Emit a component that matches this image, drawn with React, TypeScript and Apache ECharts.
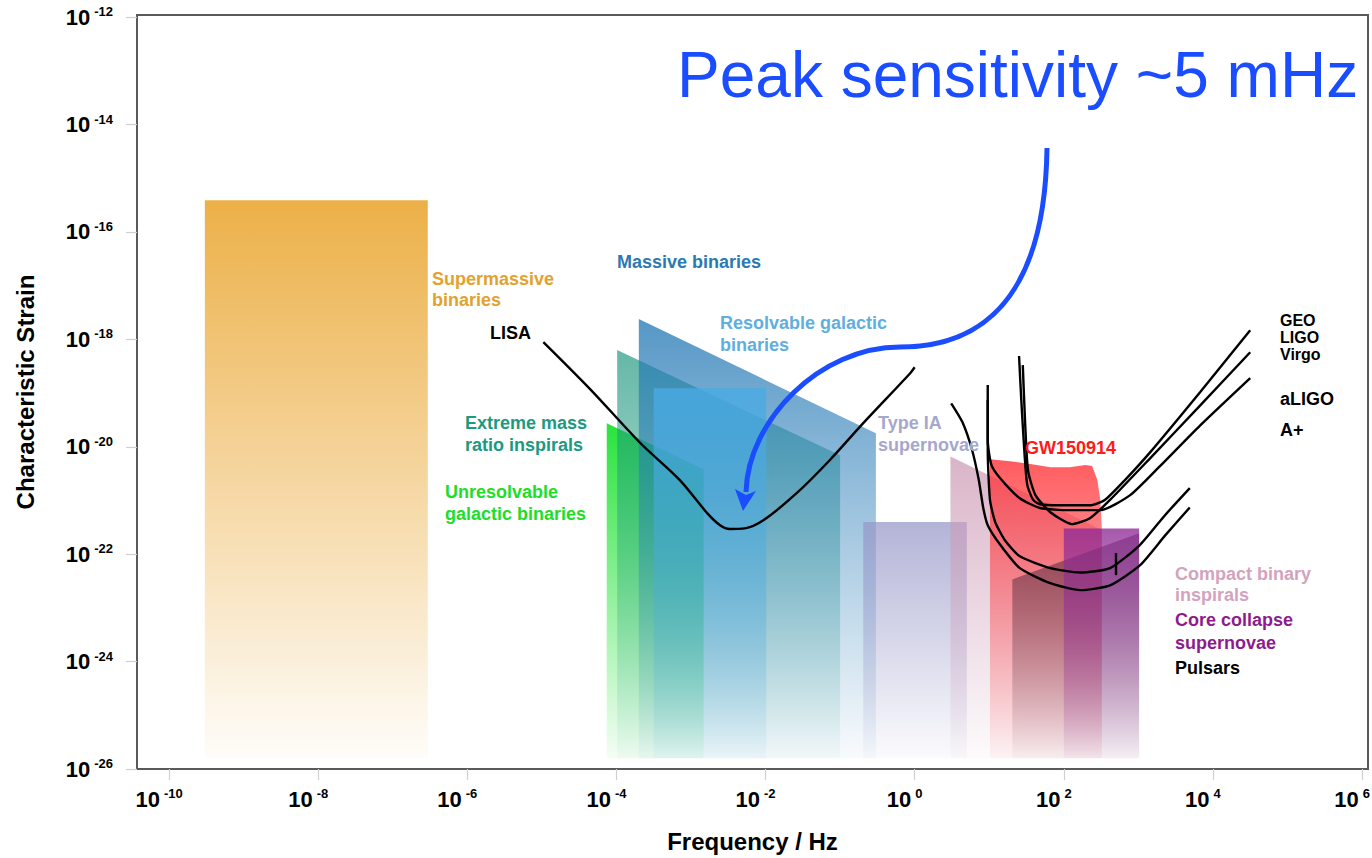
import React, { useEffect, useRef } from 'react';
import * as echarts from 'echarts';

// Axis ticks (exponents of ten)
const xTicks = [-10, -8, -6, -4, -2, 0, 2, 4, 6];
const yTicks = [-26, -24, -22, -20, -18, -16, -14, -12];

// Source regions: [log10 f (Hz), log10 characteristic strain]
const supermassiveBinaries = [[-9.52, -15.41], [-6.53, -15.41], [-6.53, -25.8], [-9.52, -25.8]];
const unresolvableGalactic = [[-4.13, -19.56], [-2.83, -20.42], [-2.83, -25.8], [-4.13, -25.8]];
const extremeMassRatio = [[-3.99, -18.2], [-1.0, -20.16], [-1.0, -25.8], [-3.99, -25.8]];
const massiveBinaries = [[-3.7, -17.62], [-0.52, -19.75], [-0.52, -25.8], [-3.7, -25.8]];
const resolvableGalactic = [[-3.5, -18.91], [-1.99, -18.91], [-1.99, -25.8], [-3.5, -25.8]];
const typeIASupernovae = [[-0.69, -21.4], [0.7, -21.4], [0.7, -25.8], [-0.69, -25.8]];
const compactBinary = [[0.48, -20.18], [2.51, -21.55], [2.51, -25.8], [0.48, -25.8]];
const gw150914 = [
  [1.01, -20.23], [1.28, -20.27], [1.55, -20.32], [1.82, -20.38], [2.08, -20.38],
  [2.29, -20.34], [2.38, -20.36], [2.45, -20.62], [2.49, -20.99], [2.51, -21.52],
  [2.51, -25.8], [1.01, -25.8],
];
const pulsars = [[1.31, -22.47], [3.01, -21.61], [3.01, -25.8], [1.31, -25.8]];
const coreCollapse = [[2.0, -21.52], [3.01, -21.52], [3.01, -25.8], [2.0, -25.8]];

// Detector sensitivity curves
const lisa = [
  [-4.98, -18.05], [-4.35, -18.93], [-3.68, -19.93], [-3.15, -20.62], [-2.78, -21.24],
  [-2.61, -21.46], [-2.48, -21.53], [-2.28, -21.52], [-2.03, -21.37], [-1.58, -20.86],
  [-1.14, -20.25], [-0.69, -19.56], [-0.06, -18.63], [0.0, -18.52],
];
const geo = [
  [1.4, -18.31], [1.43, -19.13], [1.47, -20.06], [1.51, -20.71], [1.59, -20.99],
  [1.68, -21.07], [1.95, -21.09], [2.35, -21.09], [2.55, -20.99], [2.82, -20.62],
  [3.16, -20.1], [3.83, -18.98], [4.5, -17.83],
];
const ligo = [
  [1.45, -18.48], [1.48, -19.51], [1.52, -20.44], [1.62, -20.9], [1.82, -21.22],
  [2.11, -21.44], [2.35, -21.33], [2.62, -20.99], [3.16, -20.21], [3.83, -19.23],
  [4.5, -18.24],
];
const virgo = [
  [0.98, -18.85], [0.98, -19.88], [1.03, -20.34], [1.15, -20.59], [1.41, -20.96],
  [1.68, -21.14], [2.08, -21.18], [2.49, -21.18], [2.89, -20.9], [3.29, -20.36],
  [3.83, -19.6], [4.5, -18.72],
];
const aligo = [
  [0.98, -19.13], [0.98, -20.06], [1.01, -20.99], [1.08, -21.4], [1.21, -21.74],
  [1.41, -22.04], [1.82, -22.26], [2.22, -22.34], [2.62, -22.26], [3.02, -21.83],
  [3.36, -21.27], [3.69, -20.77],
];
const aPlus = [
  [0.49, -19.19], [0.64, -19.54], [0.77, -20.06], [0.86, -20.62], [0.92, -21.14],
  [0.98, -21.46], [1.15, -21.83], [1.41, -22.26], [1.82, -22.54], [2.22, -22.67],
  [2.62, -22.58], [3.02, -22.21], [3.36, -21.65], [3.69, -21.13],
];
const marker = [[2.7, -21.98], [2.7, -22.39]];

const FONT = '"Liberation Sans", Arial, Helvetica, sans-serif';

export default function App() {
  const ref = useRef<HTMLDivElement>(null);

  useEffect(() => {
    const chart = echarts.init(ref.current!, null, { renderer: 'svg' });

    const grad = (top: string, bottom: string) =>
      new echarts.graphic.LinearGradient(0, 0, 0, 1, [
        { offset: 0, color: top },
        { offset: 1, color: bottom },
      ]);

    const regions = [
      { pts: supermassiveBinaries, top: 'rgba(236,176,72,1)', bottom: 'rgba(236,176,72,0.03)' },
      { pts: unresolvableGalactic, top: 'rgba(30,226,50,0.95)', bottom: 'rgba(30,226,50,0.05)' },
      { pts: extremeMassRatio, top: 'rgba(28,150,125,0.68)', bottom: 'rgba(28,150,125,0.03)' },
      { pts: massiveBinaries, top: 'rgba(38,122,182,0.78)', bottom: 'rgba(38,122,182,0.03)' },
      { pts: resolvableGalactic, top: 'rgba(72,170,228,0.8)', bottom: 'rgba(72,170,228,0.05)' },
      { pts: typeIASupernovae, top: 'rgba(150,150,200,0.72)', bottom: 'rgba(150,150,200,0.04)' },
      { pts: compactBinary, top: 'rgba(205,155,182,0.75)', bottom: 'rgba(205,155,182,0.04)' },
      { pts: gw150914, top: 'rgba(255,50,55,0.8)', bottom: 'rgba(255,50,55,0.04)' },
      { pts: pulsars, top: 'rgba(80,40,60,0.62)', bottom: 'rgba(80,40,60,0.03)' },
      { pts: coreCollapse, top: 'rgba(142,42,150,0.78)', bottom: 'rgba(142,42,150,0.05)' },
    ];

    const regionSeries = regions.map((r, i) => ({
      type: 'custom',
      coordinateSystem: 'cartesian2d',
      silent: true,
      z: 1 + i * 0.01,
      data: [r.pts[0]],
      renderItem: (_params: any, api: any) => ({
        type: 'polygon',
        shape: { points: r.pts.map((p) => api.coord(p)) },
        style: { fill: grad(r.top, r.bottom) },
      }),
    }));

    const curve = (data: number[][], smooth = 0.25) => ({
      type: 'line',
      data,
      smooth,
      showSymbol: false,
      silent: true,
      z: 5,
      lineStyle: { color: '#000', width: 2.4 },
    });

    const label = (text: string, x: number, y: number, fill: string, lineHeight = 21, size = 18) => ({
      type: 'text',
      x,
      y,
      z: 50,
      style: {
        text,
        fill,
        font: `bold ${size}px ${FONT}`,
        lineHeight,
        align: 'left',
        verticalAlign: 'middle',
      },
    });

    const tickRich = {
      b: { fontSize: 22, fontWeight: 'bold', fontFamily: FONT, color: '#000', lineHeight: 24 },
      s: { fontSize: 13, fontWeight: 'bold', fontFamily: FONT, color: '#000', lineHeight: 13, verticalAlign: 'top', padding: [0, 0, 0, 4] },
    };

    const option: any = {
      animation: false,
      backgroundColor: '#fff',
      grid: {
        left: 137,
        right: 4,
        top: 15,
        bottom: 89,
        show: true,
        borderColor: '#5a5a5a',
        borderWidth: 2,
        backgroundColor: 'transparent',
        outerBoundsMode: 'none',
      },
      xAxis: {
        type: 'value',
        min: -10.43,
        max: 6.08,
        name: 'Frequency / Hz',
        nameLocation: 'middle',
        nameGap: 60,
        nameTextStyle: { fontSize: 24, fontWeight: 'bold', fontFamily: FONT, color: '#000' },
        axisLine: { show: false, onZero: false },
        axisTick: { show: true, customValues: xTicks, length: 11, lineStyle: { color: '#cfcfcf', width: 1.2 } },
        axisLabel: {
          customValues: xTicks,
          margin: 18,
          padding: [0, 20, 0, 0],
          formatter: (v: number) => `{b|10}{s|${v}}`,
          rich: tickRich,
        },
        splitLine: { show: false },
      },
      yAxis: {
        type: 'value',
        min: -26,
        max: -11.96,
        name: 'Characteristic Strain',
        nameLocation: 'middle',
        nameGap: 100,
        nameTextStyle: { fontSize: 24, fontWeight: 'bold', fontFamily: FONT, color: '#000' },
        axisLine: { show: false, onZero: false },
        axisTick: { show: true, customValues: yTicks, length: 11, lineStyle: { color: '#cfcfcf', width: 1.2 } },
        axisLabel: {
          customValues: yTicks,
          margin: 24,
          formatter: (v: number) => `{b|10}{s|${v}}`,
          rich: tickRich,
        },
        splitLine: { show: false },
      },
      series: [
        ...regionSeries,
        curve(lisa, 0.3),
        curve(geo, 0.2),
        curve(ligo, 0.2),
        curve(virgo, 0.2),
        curve(aligo, 0.2),
        curve(aPlus, 0.2),
        curve(marker, 0),
      ],
      graphic: [
        label('Supermassive\nbinaries', 432, 289.5, '#E3A22E'),
        label('LISA', 490, 333, '#000'),
        label('Massive binaries', 617, 262, '#2B79B1'),
        label('Resolvable galactic\nbinaries', 720, 334, '#5FAEE0', 22),
        label('Extreme mass\nratio inspirals', 465, 434, '#1C9A80', 22),
        label('Unresolvable\ngalactic binaries', 445, 503, '#20DE28', 22),
        label('Type IA\nsupernovae', 878, 434, '#A6A7CC', 22),
        label('GW150914', 1025, 448, '#FF1A1A'),
        label('GEO', 1280, 320, '#000', 17, 16),
        label('LIGO', 1280, 337, '#000', 17, 16),
        label('Virgo', 1280, 354, '#000', 17, 16),
        label('aLIGO', 1280, 399, '#000'),
        label('A+', 1280, 430, '#000'),
        label('Compact binary\ninspirals', 1175, 584.5, '#D3A3BD'),
        label('Core collapse\nsupernovae', 1175, 631.5, '#8E1B8E', 23),
        label('Pulsars', 1175, 668, '#000'),
        {
          type: 'text',
          x: 677,
          y: 75,
          z: 60,
          style: {
            text: 'Peak sensitivity ~5 mHz',
            fill: '#1a4dff',
            font: `64px ${FONT}`,
            align: 'left',
            verticalAlign: 'middle',
          },
        },
        {
          type: 'bezierCurve',
          z: 60,
          shape: { x1: 1047, y1: 148, cpx1: 1045, cpy1: 300, cpx2: 980, cpy2: 347, x2: 900, y2: 347 },
          style: { stroke: '#1a4dff', lineWidth: 5, fill: 'none' },
        },
        {
          type: 'bezierCurve',
          z: 60,
          shape: { x1: 900, y1: 347, cpx1: 820, cpy1: 347, cpx2: 748, cpy2: 420, x2: 746, y2: 492 },
          style: { stroke: '#1a4dff', lineWidth: 5, fill: 'none' },
        },
        {
          type: 'polygon',
          z: 61,
          shape: { points: [[743, 511], [735, 489], [746, 495], [756, 491]] },
          style: { fill: '#1a4dff' },
        },
      ],
    };

    chart.setOption(option);
    return () => chart.dispose();
  }, []);

  return (
    <div style={{ position: 'fixed', left: 0, top: 0, width: 1372, height: 858, background: '#fff' }}>
      <div ref={ref} style={{ width: 1372, height: 858 }} />
    </div>
  );
}
